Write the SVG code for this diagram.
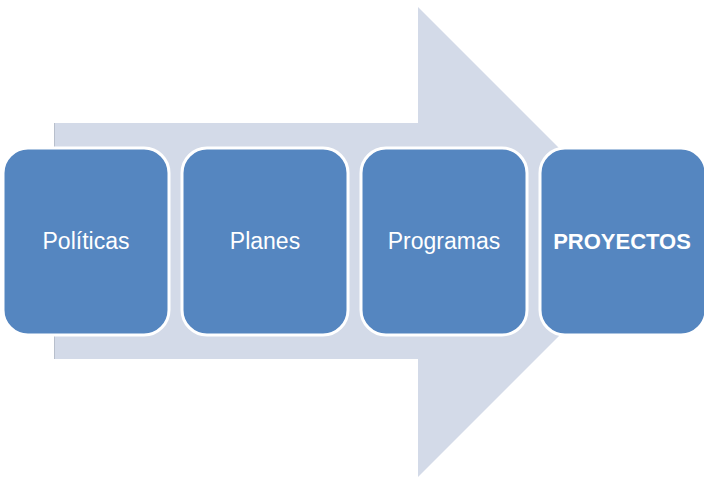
<svg xmlns="http://www.w3.org/2000/svg" width="704" height="481" viewBox="0 0 704 481">
<style>
.box{fill:#5586C0;stroke:#FFFFFF;stroke-width:3}
.lbl{fill:#FFFFFF;font-family:"Liberation Sans","Open Sans",sans-serif;font-size:23px;text-anchor:middle}
.bold{font-weight:bold;font-size:22px}
</style>
<rect width="704" height="481" fill="#FFFFFF"/>
<g id="arrow">
<polygon points="54,123 418,123 418,7 653,242 418,477 418,359 54,359" fill="#D3DAE8"/>
<line x1="54.5" y1="123" x2="54.5" y2="359" stroke="#B8BFCC" stroke-width="1"/>
</g>
<g id="connectors"></g>
<g id="node-politicas">
<rect class="box" x="3" y="148" width="166" height="187" rx="25"/>
<text class="lbl" x="86" y="249">Políticas</text>
</g>
<g id="node-planes">
<rect class="box" x="182" y="148" width="166" height="187" rx="25"/>
<text class="lbl" x="265" y="249">Planes</text>
</g>
<g id="node-programas">
<rect class="box" x="361" y="148" width="166" height="187" rx="25"/>
<text class="lbl" x="444" y="249">Programas</text>
</g>
<g id="node-proyectos">
<rect class="box" x="540" y="148" width="166" height="187" rx="25"/>
<text class="lbl bold" x="622" y="249">PROYECTOS</text>
</g>
</svg>
